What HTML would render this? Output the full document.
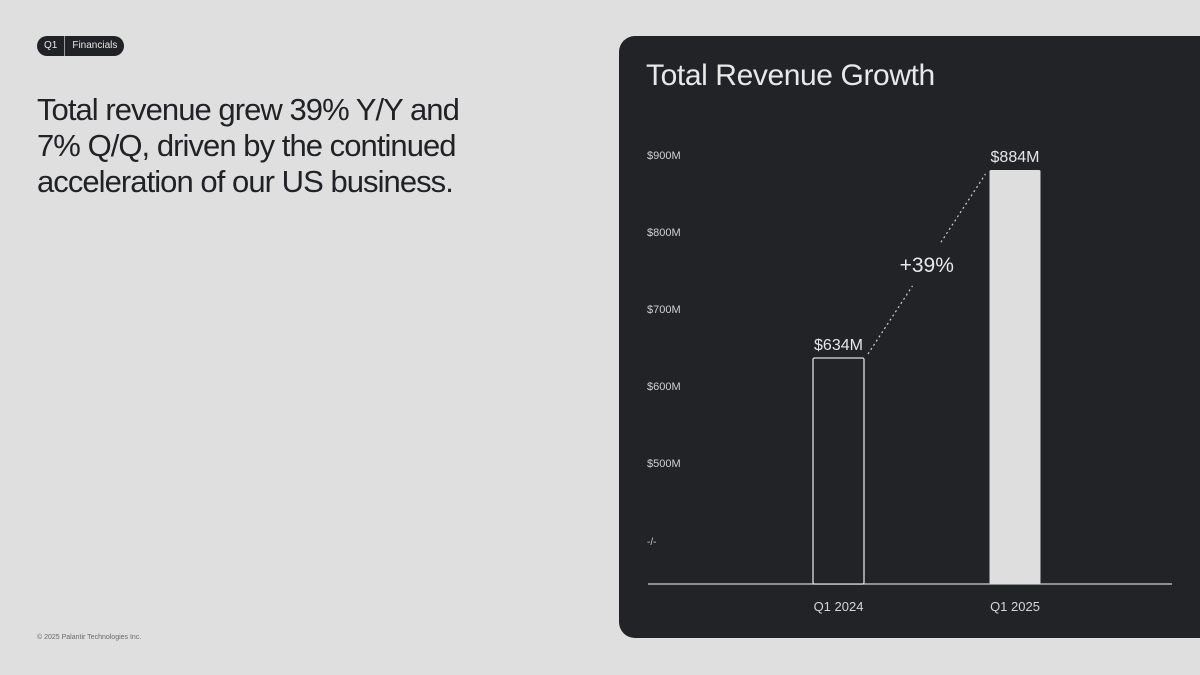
<!DOCTYPE html>
<html><head><meta charset="utf-8">
<style>
html,body{margin:0;padding:0;}
body{width:1200px;height:675px;background:#dfdfdf;position:relative;overflow:hidden;font-family:"Liberation Sans",sans-serif;}
.pill{position:absolute;left:37px;top:36px;height:20px;background:#202226;border-radius:10px;display:flex;align-items:center;color:#e6e6e6;font-size:10px;}
.pill span{padding:0 7px;line-height:20px;}
.pill .sep{width:1px;height:20px;background:#9a9a9a;padding:0;}
.head{position:absolute;left:37px;top:92px;font-size:31px;line-height:36px;color:#202226;letter-spacing:-0.95px;margin:0;font-weight:normal;}
.foot{position:absolute;left:37px;top:634px;font-size:7px;color:#6a6a6a;}
.card{position:absolute;left:619px;top:36px;width:600px;height:602px;background:#212327;border-radius:16px;}
</style></head><body>
<div class="pill"><span>Q1</span><span class="sep"></span><span>Financials</span></div>
<h1 class="head">Total revenue grew 39% Y/Y and<br>7% Q/Q, driven by the continued<br>acceleration of our US business.</h1>
<div class="foot">© 2025 Palantir Technologies Inc.</div>
<div class="card"></div>
<svg id="chart" width="1200" height="675" style="position:absolute;left:0;top:0">
<text x="646" y="85" font-size="30" fill="#e8e8e8" font-family="Liberation Sans, sans-serif" letter-spacing="-0.4">Total Revenue Growth</text>
</svg>
<script>
const categories=["Q1 2024","Q1 2025"];
const revenue=[634,884];
const valueLabels=["$634M","$884M"];
const tickValues=[900,800,700,600,500];
const tickLabels=["$900M","$800M","$700M","$600M","$500M"];
const growthLabel="+39%";

const NS="http://www.w3.org/2000/svg";
const svg=document.getElementById('chart');
function y(v){return 170+(884-v)*0.752;}
function yTick(v){return 155+(900-v)*0.77;}
const baseY=584;
const xCenters=[838.5,1015];
function x(i){return xCenters[0]+i*(xCenters[1]-xCenters[0]);}
const barW=51;
function mk(tag,attrs){const e=document.createElementNS(NS,tag);for(const k in attrs)e.setAttribute(k,attrs[k]);svg.appendChild(e);return e;}

tickValues.forEach((v,i)=>{
  const t=mk('text',{x:647,y:yTick(v)+4,'font-size':11,fill:'#cfcfcf','font-family':'Liberation Sans, sans-serif'});
  t.textContent=tickLabels[i];
  
  
});
const br=mk('text',{x:647,y:545,'font-size':10,fill:'#cfcfcf','font-family':'Liberation Sans, sans-serif'});
br.textContent='-/-';



const ax=mk('line',{x1:648,y1:baseY,x2:1172,y2:baseY,stroke:'#d0d0d0','stroke-width':1.2});



revenue.forEach((v,i)=>{
  const cx=x(i),top=y(v);
  const r=mk('rect',{x:cx-barW/2,y:top,width:barW,height:baseY-top,rx:1.5,
    fill:i===0?'#212327':'#dedede',stroke:'#dedede','stroke-width':i===0?1.3:0});
  
  
  const l=mk('text',{x:cx,y:top-8,'text-anchor':'middle','font-size':16,fill:'#e6e6e6','font-family':'Liberation Sans, sans-serif'});
  l.textContent=valueLabels[i];
  
  
  const c=mk('text',{x:cx,y:611,'text-anchor':'middle','font-size':13,fill:'#d6d6d6','font-family':'Liberation Sans, sans-serif'});
  c.textContent=categories[i];
  
  
});

const x1=x(0)+barW/2+4,y1=y(revenue[0])-4,x2=x(1)-barW/2-4,y2=y(revenue[1])+4;
const mx=(x1+x2)/2,my=(y1+y2)/2;
const dx=x2-x1,dy=y2-y1,len=Math.hypot(dx,dy),gap=26;
[[x1,y1,mx-dx/len*gap,my-dy/len*gap],[mx+dx/len*gap,my+dy/len*gap,x2,y2]].forEach(s=>{
  const ln=mk('line',{x1:s[0],y1:s[1],x2:s[2],y2:s[3],stroke:'#cfcfcf','stroke-width':1.2,'stroke-dasharray':'2 3'});
  
  
});
const g=mk('text',{x:mx,y:my+8,'text-anchor':'middle','font-size':21,fill:'#e8e8e8','font-family':'Liberation Sans, sans-serif'});
g.textContent=growthLabel;


</script>
</body></html>
